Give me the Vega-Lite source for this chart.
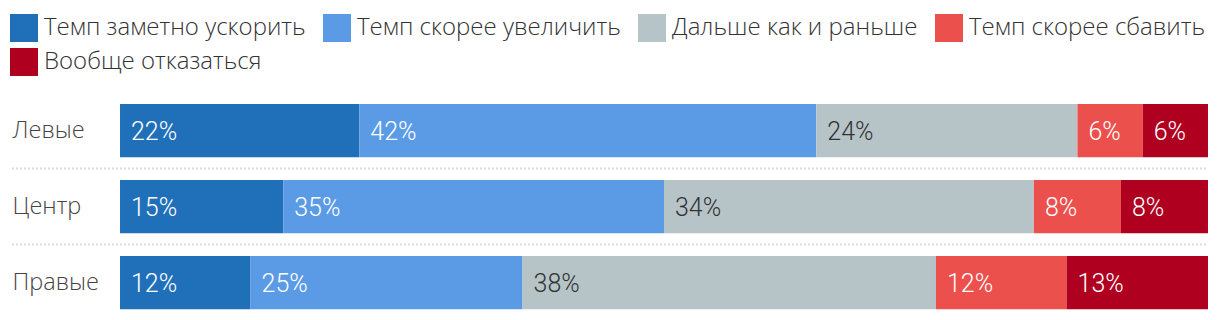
{
  "$schema": "https://vega.github.io/schema/vega-lite/v6.json",
  "width": 1088,
  "height": 228,
  "autosize": {"type": "none"},
  "padding": {"left": 120, "top": 92.6, "right": 12, "bottom": 0},
  "background": "white",
  "data": {
    "values": [
      {"row": "Левые", "cat": "Темп заметно ускорить", "k": 1, "value": 0.22},
      {"row": "Левые", "cat": "Темп скорее увеличить", "k": 2, "value": 0.42},
      {"row": "Левые", "cat": "Дальше как и раньше", "k": 3, "value": 0.24},
      {"row": "Левые", "cat": "Темп скорее сбавить", "k": 4, "value": 0.06},
      {"row": "Левые", "cat": "Вообще отказаться", "k": 5, "value": 0.06},
      {"row": "Центр", "cat": "Темп заметно ускорить", "k": 1, "value": 0.15},
      {"row": "Центр", "cat": "Темп скорее увеличить", "k": 2, "value": 0.35},
      {"row": "Центр", "cat": "Дальше как и раньше", "k": 3, "value": 0.34},
      {"row": "Центр", "cat": "Темп скорее сбавить", "k": 4, "value": 0.08},
      {"row": "Центр", "cat": "Вообще отказаться", "k": 5, "value": 0.08},
      {"row": "Правые", "cat": "Темп заметно ускорить", "k": 1, "value": 0.12},
      {"row": "Правые", "cat": "Темп скорее увеличить", "k": 2, "value": 0.25},
      {"row": "Правые", "cat": "Дальше как и раньше", "k": 3, "value": 0.38},
      {"row": "Правые", "cat": "Темп скорее сбавить", "k": 4, "value": 0.12},
      {"row": "Правые", "cat": "Вообще отказаться", "k": 5, "value": 0.13}
    ]
  },
  "transform": [
    {"stack": "value", "groupby": ["row"], "sort": [{"field": "k", "order": "ascending"}], "as": ["x0", "x1"]}
  ],
  "layer": [
    {
      "transform": [{"filter": "datum.k == 1 && datum.row != 'Правые'"}],
      "mark": {"type": "rule", "strokeDash": [2, 2], "strokeWidth": 2, "color": "#dcdcdc"},
      "encoding": {
        "x": {"datum": -0.0993, "type": "quantitative", "scale": {"domain": [0, 1], "nice": false, "zero": false}, "axis": null},
        "x2": {"datum": 1},
        "y": {"field": "row", "type": "nominal", "bandPosition": 1, "sort": ["Левые", "Центр", "Правые"], "title": null, "scale": {"paddingInner": 0, "paddingOuter": 0}}
      }
    },
    {
      "mark": {"type": "bar", "height": {"band": 0.7}},
      "encoding": {
        "x": {"field": "x0", "type": "quantitative", "scale": {"domain": [0, 1], "nice": false, "zero": false}, "axis": null},
        "x2": {"field": "x1"},
        "y": {"field": "row", "type": "nominal", "sort": ["Левые", "Центр", "Правые"], "title": null, "scale": {"paddingInner": 0, "paddingOuter": 0}},
        "color": {
          "field": "cat",
          "type": "nominal",
          "scale": {
            "domain": ["Темп заметно ускорить", "Темп скорее увеличить", "Дальше как и раньше", "Темп скорее сбавить", "Вообще отказаться"],
            "range": ["#2070b9", "#5b9be6", "#b6c4c8", "#eb504c", "#b00020"]
          },
          "legend": {
            "orient": "none",
            "legendX": -110,
            "legendY": -78.6,
            "direction": "horizontal",
            "columns": 4,
            "title": null,
            "padding": 0,
            "symbolType": "square",
            "symbolSize": 784,
            "symbolStrokeWidth": 0,
            "symbolOpacity": 1,
            "labelFont": "Open Sans",
            "labelFontWeight": 300,
            "labelFontSize": 24,
            "labelColor": "#333333",
            "labelOffset": 6,
            "labelLimit": 400,
            "columnPadding": 17,
            "rowPadding": 6
          }
        }
      }
    },
    {
      "mark": {"type": "text", "align": "left", "baseline": "middle", "dx": 11, "dy": 1, "font": "Roboto", "fontWeight": 300, "fontSize": 25},
      "encoding": {
        "x": {"field": "x0", "type": "quantitative", "scale": {"domain": [0, 1], "nice": false, "zero": false}, "axis": null},
        "y": {"field": "row", "type": "nominal", "sort": ["Левые", "Центр", "Правые"], "title": null},
        "text": {"field": "value", "type": "quantitative", "format": ".0%"},
        "color": {"condition": {"test": "datum.cat === 'Дальше как и раньше'", "value": "#333333"}, "value": "#ffffff"}
      }
    }
  ],
  "config": {
    "view": {"stroke": null},
    "axisY": {
      "domain": false,
      "ticks": false,
      "tickSize": 0,
      "grid": false,
      "labelAlign": "left",
      "labelPadding": 108,
      "labelFont": "Open Sans",
      "labelFontWeight": 300,
      "labelFontSize": 23.5,
      "labelColor": "#444444"
    }
  }
}
